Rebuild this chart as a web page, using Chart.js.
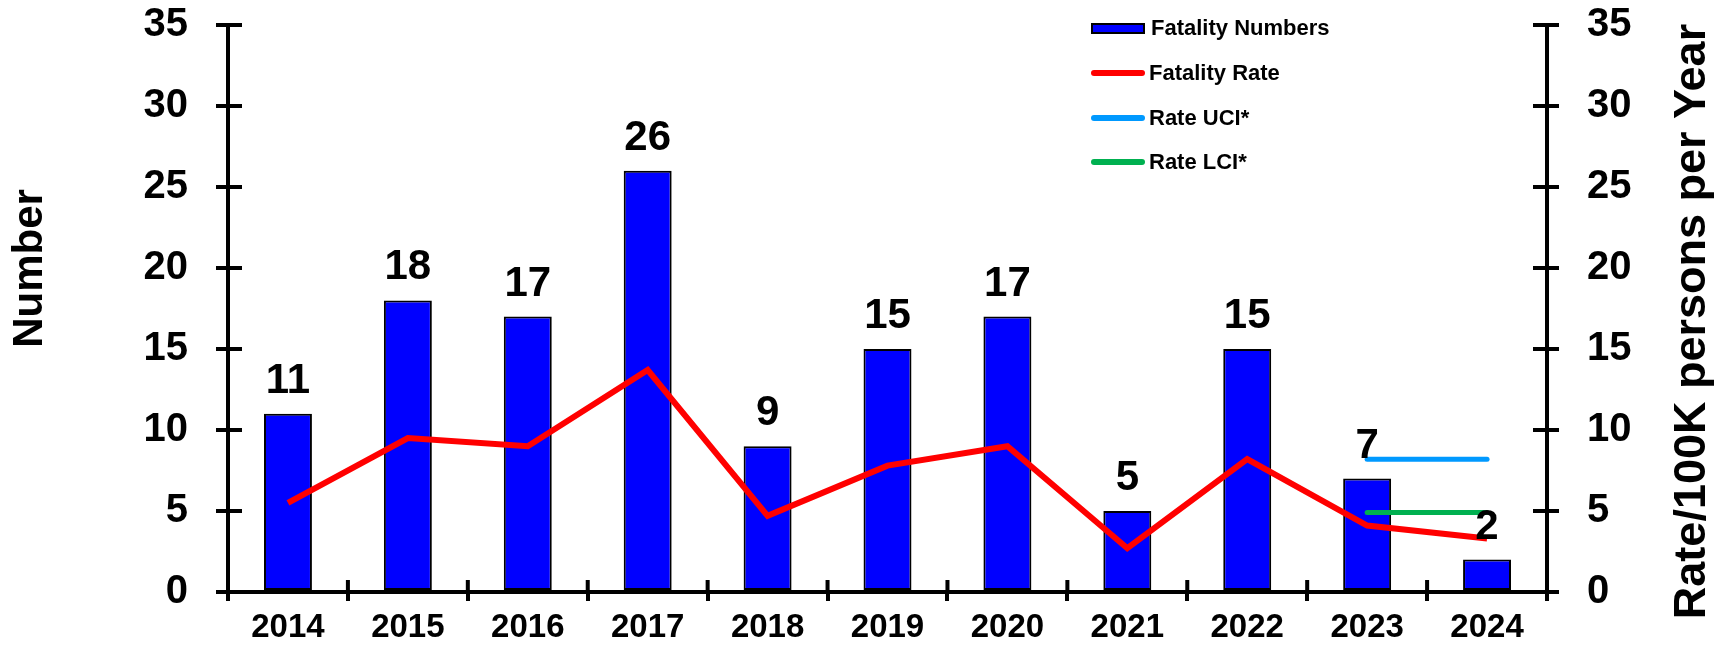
<!DOCTYPE html>
<html>
<head>
<meta charset="utf-8">
<script src="https://cdn.jsdelivr.net/npm/chart.js@4.4.1/dist/chart.umd.min.js"></script>
<style>
  body { margin: 0; background: #fff; }
  #wrap { position: relative; width: 1731px; height: 647px; }
  #legend { position: absolute; left: 1091px; top: 6px; font: bold 22px "Liberation Sans", Arial, sans-serif; color: #000; }
  .legend-row { display: flex; align-items: center; height: 44.7px; }
  .legend-mark { width: 54px; margin-right: 4px; }
  .legend-mark.box { height: 7px; border: 2px solid #000; width: 50px; margin-right: 6px; }
  .legend-mark.line { height: 6px; border-radius: 3px; }
</style>
</head>
<body>
<div id="wrap">
  <canvas id="chart"></canvas>
  <div id="legend"></div>
</div>
<script>
const years = ["2014", "2015", "2016", "2017", "2018", "2019", "2020", "2021", "2022", "2023", "2024"];
const fatalityNumbers = [11, 18, 17, 26, 9, 15, 17, 5, 15, 7, 2];
const fatalityRate = [5.5, 9.5, 9.0, 13.7, 4.7, 7.8, 9.0, 2.7, 8.2, 4.1, 3.3];
const rateUCI = [null, null, null, null, null, null, null, null, null, 8.2, 8.2];
const rateLCI = [null, null, null, null, null, null, null, null, null, 4.9, 4.9];
const axisTicks = [0, 5, 10, 15, 20, 25, 30, 35];

const FONT = '"Liberation Sans", Arial, sans-serif';

const valueLabels = {
  id: "value-labels",
  afterDatasetsDraw(chart) {
    const { ctx } = chart;
    const meta = chart.getDatasetMeta(0);
    ctx.save();
    ctx.font = `bold 42px ${FONT}`;
    ctx.fillStyle = "#000";
    ctx.textAlign = "center";
    ctx.textBaseline = "alphabetic";
    meta.data.forEach((bar, i) => {
      ctx.fillText(String(fatalityNumbers[i]), bar.x, bar.y - 21);
    });
    ctx.restore();
  },
};

// ticks in the reference cross the axis line, Chart.js only draws the outer half
const crossTicks = {
  id: "cross-ticks",
  afterDraw(chart) {
    const { ctx, chartArea, scales } = chart;
    ctx.save();
    ctx.strokeStyle = "#000";
    ctx.lineWidth = 4;
    ctx.beginPath();
    scales.y.ticks.forEach((t) => {
      const py = scales.y.getPixelForValue(t.value);
      ctx.moveTo(chartArea.left, py);
      ctx.lineTo(chartArea.left + 14, py);
    });
    scales.y1.ticks.forEach((t) => {
      const py = scales.y1.getPixelForValue(t.value);
      ctx.moveTo(chartArea.right, py);
      ctx.lineTo(chartArea.right - 14, py);
    });
    for (let i = 1; i < years.length; i++) {
      const px = scales.x.getPixelForValue(i - 0.5);
      ctx.moveTo(px, chartArea.bottom);
      ctx.lineTo(px, chartArea.bottom - 12);
    }
    ctx.stroke();
    ctx.restore();
  },
};

// both titles read bottom-to-top, so draw them here
const axisTitles = {
  id: "axis-titles",
  afterDraw(chart) {
    const { ctx, chartArea } = chart;
    const midY = (chartArea.top + chartArea.bottom) / 2;
    ctx.save();
    ctx.fillStyle = "#000";
    ctx.textAlign = "center";
    ctx.textBaseline = "middle";
    ctx.font = `bold 42px ${FONT}`;
    ctx.translate(30, midY - 40);
    ctx.rotate(-Math.PI / 2);
    ctx.fillText("Number", 0, 0);
    ctx.restore();
    ctx.save();
    ctx.fillStyle = "#000";
    ctx.textAlign = "center";
    ctx.textBaseline = "middle";
    ctx.font = `bold 45px ${FONT}`;
    ctx.translate(chartArea.right + 146, midY + 13);
    ctx.rotate(-Math.PI / 2);
    ctx.fillText("Rate/100K persons per Year", 0, 0);
    ctx.restore();
  },
};

function axisOptions(position, width) {
  return {
    position,
    min: 0,
    max: 35,
    afterBuildTicks: (scale) => { scale.ticks = axisTicks.map((v) => ({ value: v })); },
    afterFit: (scale) => {
      scale.width = width;
      scale.paddingTop = 0;
      scale.paddingBottom = 0;
    },
    grid: { drawOnChartArea: false, color: "#000", lineWidth: 4, tickLength: 12 },
    border: { display: true, color: "#000", width: 4 },
    ticks: { color: "#000", padding: 28, font: { family: FONT, size: 40, weight: "bold" } },
  };
}

const chart = new Chart(document.getElementById("chart"), {
  data: {
    labels: years,
    datasets: [
      {
        type: "bar",
        label: "Fatality Numbers",
        data: fatalityNumbers,
        backgroundColor: "#0000ff",
        borderColor: "#000",
        borderWidth: 2,
        borderSkipped: false,
        categoryPercentage: 1,
        barPercentage: 0.4,
        yAxisID: "y",
        order: 2,
      },
      {
        type: "line",
        label: "Fatality Rate",
        data: fatalityRate,
        borderColor: "#ff0000",
        borderWidth: 6,
        pointRadius: 0,
        yAxisID: "y1",
        order: 1,
      },
      {
        type: "line",
        label: "Rate UCI*",
        data: rateUCI,
        borderColor: "#0099ff",
        borderWidth: 5,
        borderCapStyle: "round",
        pointRadius: 0,
        yAxisID: "y1",
        order: 0,
      },
      {
        type: "line",
        label: "Rate LCI*",
        data: rateLCI,
        borderColor: "#00b050",
        borderWidth: 5,
        borderCapStyle: "round",
        pointRadius: 0,
        yAxisID: "y1",
        order: 0,
      },
    ],
  },
  options: {
    responsive: true,
    maintainAspectRatio: false,
    animation: false,
    layout: { padding: { top: 25, left: 0, right: 0, bottom: 0 } },
    plugins: {
      legend: { display: false },
      tooltip: { enabled: false },
    },
    scales: {
      x: {
        offset: true,
        afterFit: (scale) => { scale.height = 55; },
        grid: { drawOnChartArea: false, offset: true, color: "#000", lineWidth: 4, tickLength: 9 },
        border: { display: true, color: "#000", width: 4 },
        ticks: { color: "#000", padding: 7, font: { family: FONT, size: 33, weight: "bold" } },
      },
      y: axisOptions("left", 228),
      y1: axisOptions("right", 184),
    },
  },
  plugins: [valueLabels, crossTicks, axisTitles],
});

document.getElementById("legend").innerHTML = chart.data.datasets.map((ds) => {
  const mark = ds.type === "bar"
    ? `<div class="legend-mark box" style="background:${ds.backgroundColor}"></div>`
    : `<div class="legend-mark line" style="background:${ds.borderColor}"></div>`;
  return `<div class="legend-row">${mark}<span>${ds.label}</span></div>`;
}).join("");
</script>
</body>
</html>
